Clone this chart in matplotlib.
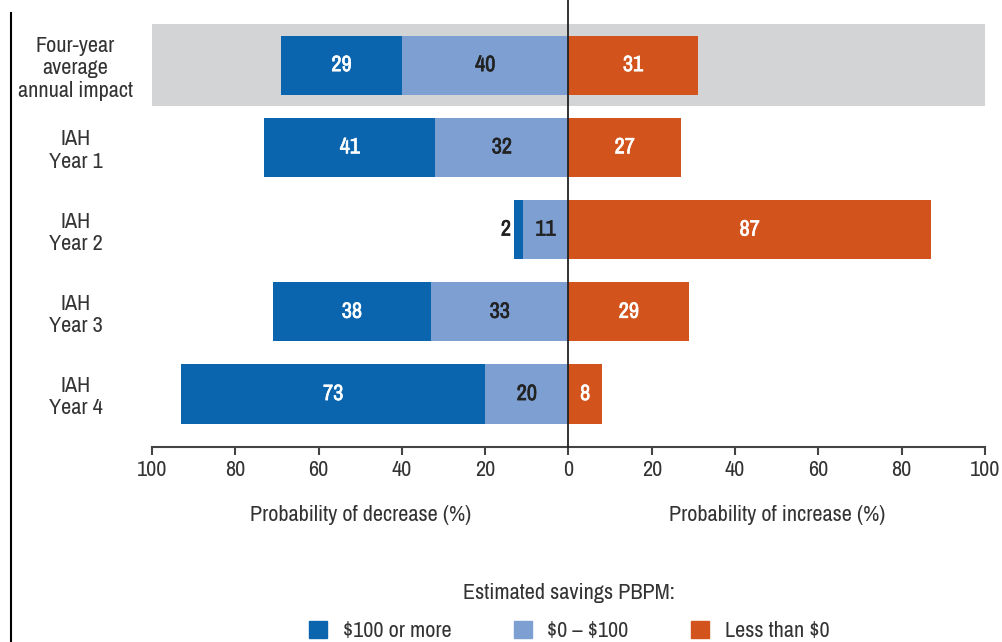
import numpy as np
import matplotlib
matplotlib.use('Agg')
import matplotlib.pyplot as plt
import matplotlib.patheffects as pe
from matplotlib import font_manager as fm
from matplotlib.lines import Line2D
from matplotlib.patches import Patch
from matplotlib.transforms import blended_transform_factory

# narrow sans, like the original
avail = {f.name for f in fm.fontManager.ttflist}
main_font = next(f for f in ['Liberation Sans Narrow', 'Archivo Narrow', 'Liberation Sans']
                 if f in avail)
plt.rcParams['font.family'] = [main_font, 'DejaVu Sans']

# data
categories = ['Four-year\naverage\nannual impact', 'IAH\nYear 1', 'IAH\nYear 2',
              'IAH\nYear 3', 'IAH\nYear 4']
save_100_more = [29, 41, 2, 38, 73]     # $100 or more
save_0_100 = [40, 32, 11, 33, 20]       # $0 - $100
save_less_0 = [31, 27, 87, 29, 8]       # Less than $0
series_names = ['\\$100 or more', '\\$0 \u2013 \\$100', 'Less than \\$0']
xticks = [-100, -80, -60, -40, -20, 0, 20, 40, 60, 80, 100]

c_dark = '#0b64ae'
c_light = '#7d9fd1'
c_orange = '#d2541c'
c_gray = '#d3d4d6'
txt = '#333333'
fs = 16

fig = plt.figure(figsize=(10.02, 6.42), dpi=100)
ax = fig.add_axes([0.1517, 0.3037, 0.8313, 0.6589])

y = np.arange(len(categories))
big = np.array(save_100_more)
mid = np.array(save_0_100)
neg = np.array(save_less_0)

# grey band behind the average row
ax.barh(0, 200, left=-100, height=1.0, color=c_gray, zorder=0)

h = 0.72
ax.barh(y, mid, left=-mid, height=h, color=c_light, zorder=2)
ax.barh(y, big, left=-(mid + big), height=h, color=c_dark, zorder=2)
ax.barh(y, neg, left=0, height=h, color=c_orange, zorder=2)


def bar_label(x, yy, s, color, ha='center'):
    # the narrow font has no bold file, so thicken it with a thin stroke
    ax.text(x, yy, s, ha=ha, va='center', color=color, fontsize=fs,
            fontweight='bold', zorder=3,
            path_effects=[pe.withStroke(linewidth=0.45, foreground=color)])


for i in y:
    if big[i] >= 5:
        bar_label(-mid[i] - big[i] / 2, i, str(big[i]), 'white')
    else:
        # too thin for the number, put it outside
        bar_label(-mid[i] - big[i] - 0.8, i, str(big[i]), '#222222', ha='right')
    bar_label(-mid[i] / 2, i, str(mid[i]), '#222222')
    bar_label(neg[i] / 2, i, str(neg[i]), 'white')

ax.set_xlim(-100, 100)
ax.set_ylim(4.644, -0.5)

# zero line, running up past the top of the axes
ax.axvline(0, ymin=0, ymax=1 + 24 / 423, color='#222222', lw=1.3,
           clip_on=False, zorder=4)

for s in ['top', 'right', 'left']:
    ax.spines[s].set_visible(False)
ax.spines['bottom'].set_color('#444444')
ax.spines['bottom'].set_linewidth(1.5)

ax.set_xticks(xticks)
ax.set_xticklabels([str(abs(t)) for t in xticks])
ax.tick_params(axis='x', direction='out', length=6, width=1.5, color='#444444',
               labelsize=fs, labelcolor=txt, pad=3)

ax.set_yticks(y)
ax.set_yticklabels(categories, linespacing=1.15)
ax.tick_params(axis='y', length=0, pad=55, labelsize=fs, labelcolor=txt)
for lbl in ax.get_yticklabels():
    lbl.set_horizontalalignment('center')

tr = blended_transform_factory(ax.transData, ax.transAxes)
ax.text(-50, -0.161, 'Probability of decrease (%)', transform=tr,
        ha='center', va='center', fontsize=fs, color=txt)
ax.text(50, -0.161, 'Probability of increase (%)', transform=tr,
        ha='center', va='center', fontsize=fs, color=txt)

# left frame line
fig.add_artist(Line2D([0.011, 0.011], [0, 0.98], transform=fig.transFigure,
                      color='black', lw=1.5))

handles = [Patch(color=c) for c in (c_dark, c_light, c_orange)]
leg = fig.legend(handles, series_names, ncol=3, loc='center',
                 bbox_to_anchor=(0.568, 0.047), frameon=False,
                 title='Estimated savings PBPM:', fontsize=fs,
                 title_fontsize=fs, handlelength=0.82, handleheight=0.82,
                 columnspacing=2.8, handletextpad=0.7)
for t in leg.get_texts():
    t.set_color(txt)
leg.get_title().set_color(txt)
leg._legend_box.sep = 13

fig.savefig('out.png', dpi=100)
